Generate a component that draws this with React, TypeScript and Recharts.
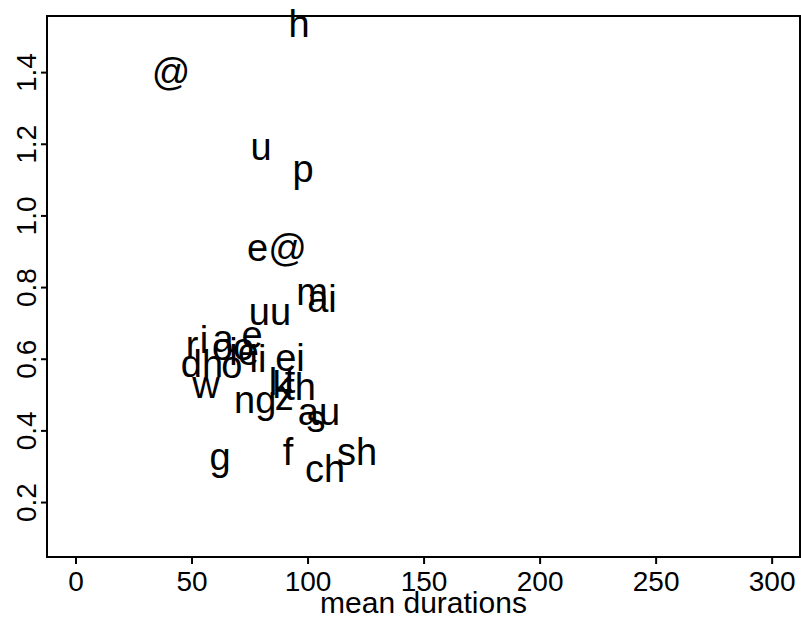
import { ScatterChart, Scatter, XAxis, YAxis, ReferenceArea } from 'recharts';

// phoneme labels plotted at (mean duration, value)
const phonemes = [
  'h', '@', 'u', 'p', 'e@', 'm', 'ai', 'uu', 'i', 'r', 'a', 'e', 'ei', 'ii', 'dh',
  'oo', 'ie', 'o', 'th', 'k', 'l', 't', 'z', 'w', 'ng', 'au', 's', 'f', 'ch', 'sh', 'g',
];
const durations = [
  96.1, 40.9, 79.7, 97.8, 86.6, 101.7, 106.0, 83.6, 55.2, 50.0, 63.4, 75.9, 92.2, 78.4, 54.3,
  67.7, 72.4, 67.2, 96.6, 88.8, 84.9, 92.2, 89.7, 56.0, 77.2, 104.7, 103.4, 91.4, 107.3, 121.1, 62.1,
];
const values = [
  1.536, 1.402, 1.193, 1.131, 0.911, 0.788, 0.769, 0.732, 0.654, 0.64, 0.657, 0.668, 0.604, 0.601, 0.587,
  0.634, 0.62, 0.584, 0.523, 0.529, 0.537, 0.542, 0.495, 0.529, 0.487, 0.453, 0.434, 0.342, 0.294, 0.342, 0.328,
];
const xTicks = [0, 50, 100, 150, 200, 250, 300];
const yTicks = [0.2, 0.4, 0.6, 0.8, 1.0, 1.2, 1.4];

const xDomain: [number, number] = [-12.5, 312];
const yDomain: [number, number] = [0.048, 1.558];

const font = '"Liberation Sans", Arial, Helvetica, sans-serif';

const points = phonemes.map((label, i) => ({ label, x: durations[i], y: values[i] }));

function LabelMark(props: any) {
  const { cx, cy, payload } = props;
  return (
    <text x={cx} y={cy} dy={13} textAnchor="middle" fontSize={38} fontFamily={font} fill="#000">
      {payload.label}
    </text>
  );
}

function XTick(props: any) {
  const { x, y, payload } = props;
  return (
    <text x={x} y={y + 25} textAnchor="middle" fontSize={28} fontFamily={font} fill="#000">
      {payload.value}
    </text>
  );
}

function YTick(props: any) {
  const { x, y, payload } = props;
  const bx = x - 3;
  return (
    <text
      x={bx}
      y={y}
      transform={`rotate(-90, ${bx}, ${y})`}
      textAnchor="middle"
      fontSize={28}
      fontFamily={font}
      fill="#000"
    >
      {Number(payload.value).toFixed(1)}
    </text>
  );
}

export default function App() {
  return (
    <div style={{ position: 'absolute', left: 0, top: 0, background: '#fff', width: 801, height: 619 }}>
      <ScatterChart width={801} height={619} margin={{ top: 16, right: 1, left: 0, bottom: 0 }}>
        <XAxis
          type="number"
          dataKey="x"
          domain={xDomain}
          ticks={xTicks}
          axisLine={false}
          tickSize={7}
          tickLine={{ stroke: '#000', strokeWidth: 2 }}
          tick={<XTick />}
          height={62}
          label={{
            value: 'mean durations',
            position: 'insideBottom',
            offset: 6,
            fontSize: 30,
            fontFamily: font,
            fill: '#000',
          }}
        />
        <YAxis
          type="number"
          dataKey="y"
          domain={yDomain}
          ticks={yTicks}
          axisLine={false}
          tickSize={6}
          tickLine={{ stroke: '#000', strokeWidth: 2 }}
          tick={<YTick />}
          width={47}
        />
        <ReferenceArea
          x1={xDomain[0]}
          x2={xDomain[1]}
          y1={yDomain[0]}
          y2={yDomain[1]}
          fill="none"
          fillOpacity={0}
          stroke="#000"
          strokeWidth={2}
          ifOverflow="visible"
        />
        <Scatter data={points} shape={<LabelMark />} isAnimationActive={false} />
      </ScatterChart>
    </div>
  );
}
